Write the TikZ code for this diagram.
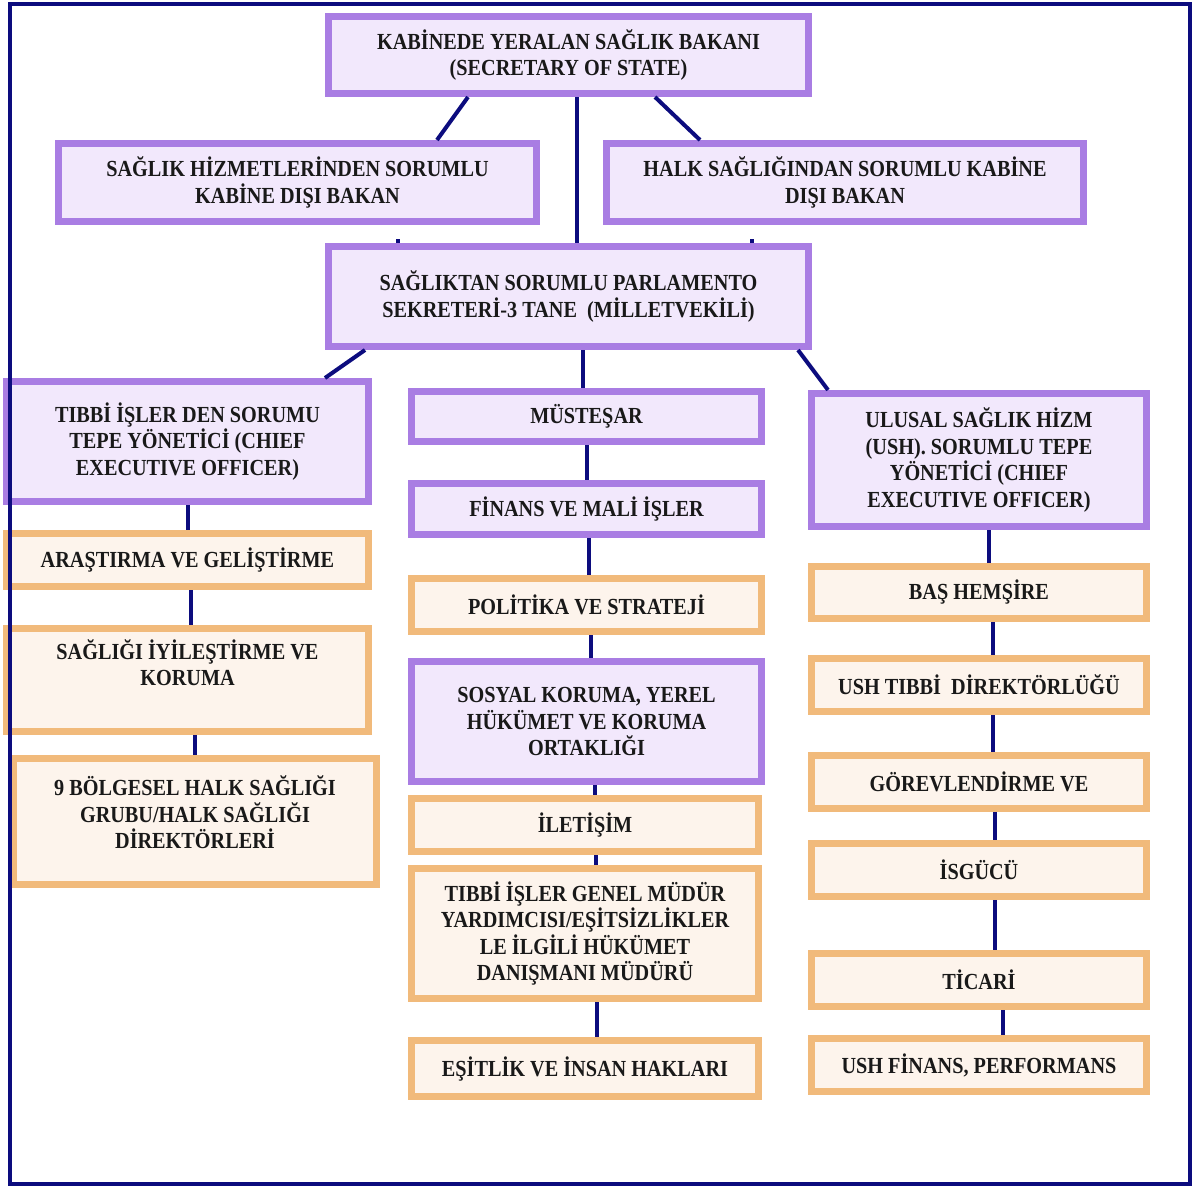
\documentclass[tikz,border=0pt]{standalone}
\usepackage{fontspec}
\setmainfont{Liberation Serif}[FakeStretch=0.88]
\usetikzlibrary{positioning,calc}

\definecolor{lillakant}{HTML}{A97DE3}
\definecolor{lillafyll}{HTML}{F2E8FC}
\definecolor{oransjekant}{HTML}{F1BA7B}
\definecolor{oransjefyll}{HTML}{FDF4EC}
\definecolor{marine}{HTML}{0C0C7E}

\begin{document}
\begin{tikzpicture}[
    x=1pt, y=-1pt,
    %framed,
    every node/.style={align=center, inner sep=2pt, text=black!90, font=\fontsize{23}{26.5}\selectfont\bfseries},
    lilla/.style={rectangle, draw=lillakant, fill=lillafyll, line width=7pt},
    oransje/.style={rectangle, draw=oransjekant, fill=oransjefyll, line width=7pt},
    linje/.style={draw=marine, line width=4pt}
    ]
    \useasboundingbox (0,0) rectangle (1194,1187);

% ministers
\node[lilla, minimum width=480, minimum height=77] (bakan) at (568.5,55) {KABİNEDE YERALAN SAĞLIK BAKANI\\(SECRETARY OF STATE)};
\node[lilla, minimum width=478, minimum height=78] (hizmet) at (297.5,182.5) {SAĞLIK HİZMETLERİNDEN SORUMLU\\KABİNE DIŞI BAKAN};
\node[lilla, minimum width=477, minimum height=78] (halk) at (845,182.5) {HALK SAĞLIĞINDAN SORUMLU KABİNE\\DIŞI BAKAN};
\node[lilla, minimum width=480, minimum height=100] (parl) at (568.5,296.5) {SAĞLIKTAN SORUMLU PARLAMENTO\\SEKRETERİ-3 TANE\ \ (MİLLETVEKİLİ)};

% left column
\node[lilla, minimum width=362, minimum height=120] (tibbiceo) at (187.5,441.5) {TIBBİ İŞLER DEN SORUMU\\TEPE YÖNETİCİ (CHIEF\\EXECUTIVE OFFICER)};
\node[oransje, minimum width=362, minimum height=53] (arge) at (187.5,560) {ARAŞTIRMA VE GELİŞTİRME};
\node[oransje, minimum width=362, minimum height=103] (iyi) at (187.5,680) {SAĞLIĞI İYİLEŞTİRME VE\\KORUMA\\[8pt]};
\node[oransje, minimum width=363, minimum height=126] (bolge) at (195,821.5) {9 BÖLGESEL HALK SAĞLIĞI\\GRUBU/HALK SAĞLIĞI\\DİREKTÖRLERİ\\[-8pt]};

% middle column
\node[lilla, minimum width=350, minimum height=50] (mustesar) at (586.5,416.5) {MÜSTEŞAR};
\node[lilla, minimum width=350, minimum height=51] (finans) at (586.5,509) {FİNANS VE MALİ İŞLER};
\node[oransje, minimum width=350, minimum height=53] (politika) at (586.5,605) {POLİTİKA VE STRATEJİ};
\node[lilla, minimum width=350, minimum height=120] (sosyal) at (586.5,721.5) {SOSYAL KORUMA, YEREL\\HÜKÜMET VE KORUMA\\ORTAKLIĞI};
\node[oransje, minimum width=347, minimum height=53] (iletisim) at (585,825) {İLETİŞİM};
\node[oransje, minimum width=347, minimum height=130] (mudur) at (585,933.5) {TIBBİ İŞLER GENEL MÜDÜR\\YARDIMCISI/EŞİTSİZLİKLER\\LE İLGİLİ HÜKÜMET\\DANIŞMANI MÜDÜRÜ};
\node[oransje, minimum width=347, minimum height=56] (esitlik) at (585,1068.5) {EŞİTLİK VE İNSAN HAKLARI};

% right column
\node[lilla, minimum width=335, minimum height=133] (ushceo) at (979,460) {ULUSAL SAĞLIK HİZM\\(USH). SORUMLU TEPE\\YÖNETİCİ (CHIEF\\EXECUTIVE OFFICER)};
\node[oransje, minimum width=335, minimum height=52] (hemsire) at (979,592.5) {BAŞ HEMŞİRE};
\node[oransje, minimum width=335, minimum height=53] (ushtibbi) at (979,685) {USH TIBBİ\ \ DİREKTÖRLÜĞÜ};
\node[oransje, minimum width=335, minimum height=53] (gorev) at (979,782) {GÖREVLENDİRME VE};
\node[oransje, minimum width=335, minimum height=53] (isgucu) at (979,870) {İSGÜCÜ};
\node[oransje, minimum width=335, minimum height=53] (ticari) at (979,980) {TİCARİ};
\node[oransje, minimum width=335, minimum height=53] (ushfinans) at (979,1065) {USH FİNANS, PERFORMANS};

% top level lines
\draw[linje] ([xshift=-100.5]bakan.south) -- ([xshift=139.5]hizmet.north);
\draw[linje] ([xshift=86.5]bakan.south) -- ([xshift=-145]halk.north);
\draw[linje] ([xshift=8.5]bakan.south) -- ([xshift=8.5]bakan.south |- parl.north);
\draw[linje] ([xshift=-170.5]parl.north) -- ++(0,-4); % stub
\draw[linje] ([xshift=183.5]parl.north) -- ++(0,-4); % stub
\draw[linje] ([xshift=-203.5]parl.south) -- ([xshift=137.5]tibbiceo.north);
\draw[linje] ([xshift=14.5]parl.south) -- ([xshift=14.5]parl.south |- mustesar.north);
\draw[linje] ([xshift=229.5]parl.south) -- ([xshift=-151]ushceo.north);

% left chain
\draw[linje] (tibbiceo.south) -- (tibbiceo.south |- arge.north);
\draw[linje] ([xshift=3]arge.south) -- ([xshift=3]arge.south |- iyi.north);
\draw[linje] (bolge.north |- iyi.south) -- (bolge.north);

% middle chain
\draw[linje] (mustesar.south) -- (mustesar.south |- finans.north);
\draw[linje] ([xshift=2]finans.south) -- ([xshift=2]finans.south |- politika.north);
\draw[linje] ([xshift=4]politika.south) -- ([xshift=4]politika.south |- sosyal.north);
\draw[linje] ([xshift=8]sosyal.south) -- ([xshift=8]sosyal.south |- iletisim.north);
\draw[linje] ([xshift=11]iletisim.south) -- ([xshift=11]iletisim.south |- mudur.north);
\draw[linje] ([xshift=12]mudur.south) -- ([xshift=12]mudur.south |- esitlik.north);

% right chain
\draw[linje] ([xshift=10]ushceo.south) -- ([xshift=10]ushceo.south |- hemsire.north);
\draw[linje] ([xshift=14]hemsire.south) -- ([xshift=14]hemsire.south |- ushtibbi.north);
\draw[linje] ([xshift=14]ushtibbi.south) -- ([xshift=14]ushtibbi.south |- gorev.north);
\draw[linje] ([xshift=16]gorev.south) -- ([xshift=16]gorev.south |- isgucu.north);
\draw[linje] ([xshift=16]isgucu.south) -- ([xshift=16]isgucu.south |- ticari.north);
\draw[linje] ([xshift=24]ticari.south) -- ([xshift=24]ticari.south |- ushfinans.north);

% frame
\draw[marine, line width=4pt] (9.5,4) rectangle (1190,1184);
\end{tikzpicture}
\end{document}
